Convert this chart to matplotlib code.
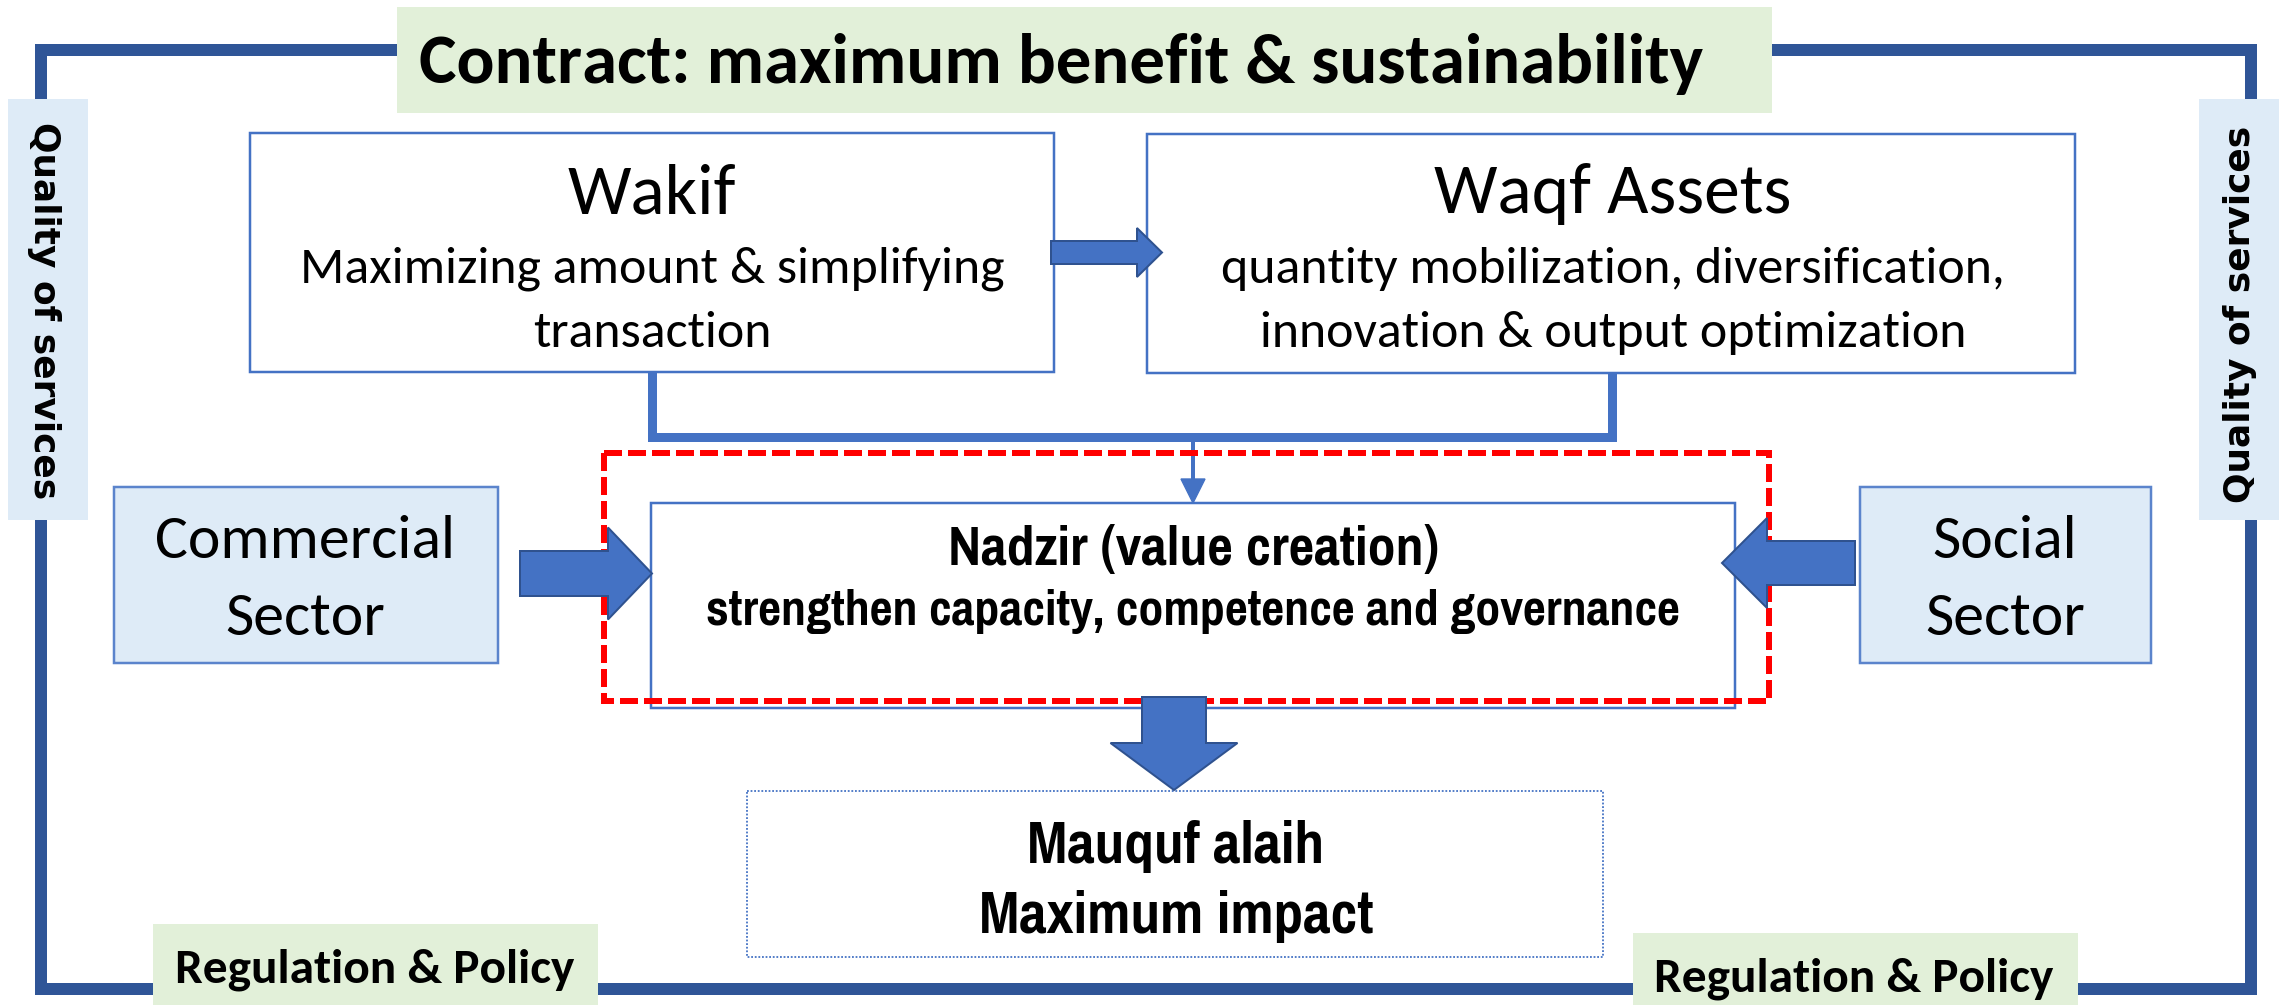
import matplotlib
matplotlib.use("Agg")
import matplotlib.pyplot as plt
from matplotlib.patches import Rectangle, Polygon
from matplotlib.lines import Line2D
from matplotlib.textpath import TextPath
from matplotlib import font_manager as fm

# ---------------- content ----------------
title_text = "Contract: maximum benefit & sustainability"
side_label = "Quality of services"
bottom_label = "Regulation & Policy"
wakif_lines = ["Wakif", "Maximizing amount & simplifying", "transaction"]
assets_lines = ["Waqf Assets", "quantity mobilization, diversification,",
                "innovation & output optimization"]
commercial_lines = ["Commercial", "Sector"]
social_lines = ["Social", "Sector"]
nadzir_lines = ["Nadzir (value creation)",
                "strengthen capacity, competence and governance"]
mauquf_lines = ["Mauquf alaih", "Maximum impact"]

# ---------------- styling ----------------
W, H, DPI = 2290, 1005, 100
PT = 0.72  # px -> pt at 100 dpi

FRAME = "#2F5597"
BLUE = "#4472C4"
ARROW_EDGE = "#2F528F"
LIGHT_BLUE = "#DEEBF7"
LIGHT_GREEN = "#E2F0D9"
RED = "#FF0000"


def font_ok(f, weight="normal"):
    try:
        p = fm.findfont(fm.FontProperties(family=f, weight=weight),
                        fallback_to_default=False)
        return "[" not in p
    except Exception:
        return False


def pick(families, weight="normal"):
    for f in families:
        if font_ok(f, weight):
            return f
    return "DejaVu Sans"


def pick_narrow(candidates, sample, target_ratio):
    """choose the condensed bold face whose width / cap-height is closest"""
    best, best_err = "DejaVu Sans", 1e9
    for f in candidates:
        if not font_ok(f, "bold"):
            continue
        prop = fm.FontProperties(family=f, weight="bold")
        try:
            w = TextPath((0, 0), sample, size=100, prop=prop).get_extents().width
            h = TextPath((0, 0), "H", size=100, prop=prop).get_extents().height
        except Exception:
            continue
        err = abs(w / h - target_ratio)
        if err < best_err:
            best, best_err = f, err
    return best


CAL = pick(["Carlito", "Lato", "Open Sans"])
NARROW = pick_narrow(["Liberation Sans Narrow", "Arial Narrow", "PT Sans Narrow",
                      "Pragati Narrow", "Roboto Condensed"],
                     "Maximum impact", 9.8)
WIDE = pick(["Verdana", "DejaVu Sans"], "bold")

fig = plt.figure(figsize=(W / DPI, H / DPI), dpi=DPI)
ax = fig.add_axes([0, 0, 1, 1])
ax.set_xlim(0, W)
ax.set_ylim(H, 0)
ax.axis("off")
renderer = fig.canvas.get_renderer()


def rect(x0, y0, x1, y1, fc="none", ec="none", lw=0, ls="-", z=2):
    ax.add_patch(Rectangle((x0, y0), x1 - x0, y1 - y0, facecolor=fc,
                           edgecolor=ec, linewidth=lw * PT, linestyle=ls,
                           zorder=z, joinstyle="miter"))


def fit_size(s, width, family, weight, rotation=0):
    t = ax.text(0, 0, s, fontsize=40, family=family, weight=weight,
                rotation=rotation)
    bb = t.get_window_extent(renderer=renderer)
    t.remove()
    w = bb.height if rotation else bb.width
    return 40 * width / w


def put(x, y, s, fs, family, weight="normal", va="baseline", rotation=0):
    ax.text(x, y, s, fontsize=fs, family=family, weight=weight, ha="center",
            va=va, rotation=rotation, rotation_mode="anchor", color="black",
            zorder=10)


def block_arrow(direction, start, end, center, shaft_half, head_start,
                head_half):
    if direction in ("right", "left"):
        pts = [(start, center - shaft_half), (head_start, center - shaft_half),
               (head_start, center - head_half), (end, center),
               (head_start, center + head_half), (head_start, center + shaft_half),
               (start, center + shaft_half)]
    else:
        pts = [(center - shaft_half, start), (center - shaft_half, head_start),
               (center - head_half, head_start), (center, end),
               (center + head_half, head_start), (center + shaft_half, head_start),
               (center + shaft_half, start)]
    ax.add_patch(Polygon(pts, closed=True, facecolor=BLUE, edgecolor=ARROW_EDGE,
                         linewidth=2 * PT, zorder=6, joinstyle="miter"))


# ---------------- outer frame ----------------
ax.add_line(Line2D([41, 41, 2251, 2251, 41], [989, 50, 50, 989, 989],
                   color=FRAME, linewidth=12 * PT, solid_joinstyle="miter",
                   zorder=1))

# label boxes on the frame
rect(397, 7, 1772, 113, fc=LIGHT_GREEN, z=2)
rect(8, 99, 88, 520, fc=LIGHT_BLUE, z=2)
rect(2199, 99, 2279, 520, fc=LIGHT_BLUE, z=2)
rect(153, 924, 598, 1005, fc=LIGHT_GREEN, z=2)
rect(1633, 933, 2078, 1005, fc=LIGHT_GREEN, z=2)

# ---------------- connectors ----------------
ax.add_line(Line2D([652, 652, 1612, 1612], [372, 437, 437, 373], color=BLUE,
                   linewidth=9 * PT, solid_joinstyle="miter", zorder=2))
ax.add_line(Line2D([1193, 1193], [437, 481], color=BLUE, linewidth=4 * PT,
                   zorder=2))
ax.add_patch(Polygon([(1181, 479), (1205, 479), (1193, 503)], closed=True,
                     facecolor=BLUE, edgecolor=BLUE, linewidth=1, zorder=3))

# ---------------- boxes ----------------
rect(250, 133, 1054, 372, fc="white", ec=BLUE, lw=2.5, z=3)
rect(1147, 134, 2075, 373, fc="white", ec=BLUE, lw=2.5, z=3)
rect(114, 487, 498, 663, fc=LIGHT_BLUE, ec="#5B84CC", lw=2.5, z=3)
rect(1860, 487, 2151, 663, fc=LIGHT_BLUE, ec="#5B84CC", lw=2.5, z=3)
rect(651, 503, 1735, 708, fc="white", ec=BLUE, lw=2.5, z=3)
ax.add_patch(Rectangle((604, 453), 1769 - 604, 701 - 453, facecolor="none",
                       edgecolor=RED, linewidth=6 * PT, linestyle=(0, (3, 1)),
                       zorder=4))
ax.add_patch(Rectangle((747, 791), 1603 - 747, 957 - 791, facecolor="white",
                       edgecolor=BLUE, linewidth=1.8 * PT, linestyle=(0, (1, 1)),
                       zorder=3))

# ---------------- block arrows ----------------
block_arrow("right", 1051, 1162, 252.5, 11.5, 1137, 24.5)
block_arrow("right", 520, 652, 573.5, 22.5, 608, 46)
block_arrow("left", 1855, 1722, 563, 22, 1767, 45)
block_arrow("down", 697, 790, 1174, 32, 743, 63.5)

# ---------------- texts ----------------
fs = fit_size(title_text, 1283, CAL, "bold")
put(1061, 83, title_text, fs, CAL, "bold")

fs = fit_size(side_label, 378, WIDE, "bold", rotation=90)
put(44, 311, side_label, fs, WIDE, "bold", va="center", rotation=-90)
put(2240, 314, side_label, fs, WIDE, "bold", va="center", rotation=90)

fs = fit_size(bottom_label, 399, CAL, "bold")
put(375, 982, bottom_label, fs, CAL, "bold")
put(1854, 991, bottom_label, fs, CAL, "bold")

fs_head = fit_size(assets_lines[0], 357, CAL, "normal")
fs_sub = fit_size(assets_lines[1], 783, CAL, "normal")
put(652, 213, wakif_lines[0], fs_head, CAL)
put(652, 282, wakif_lines[1], fs_sub, CAL)
put(652, 347, wakif_lines[2], fs_sub, CAL)
put(1613, 213, assets_lines[0], fs_head, CAL)
put(1613, 283, assets_lines[1], fs_sub, CAL)
put(1613, 347, assets_lines[2], fs_sub, CAL)

fs = fit_size(commercial_lines[0], 300, CAL, "normal")
put(305, 558, commercial_lines[0], fs, CAL)
put(305, 635, commercial_lines[1], fs, CAL)
put(2005, 558, social_lines[0], fs, CAL)
put(2005, 635, social_lines[1], fs, CAL)

fs = fit_size(nadzir_lines[0], 491, NARROW, "bold")
put(1193, 565, nadzir_lines[0], fs, NARROW, "bold")
fs = fit_size(nadzir_lines[1], 976, NARROW, "bold")
put(1193, 625, nadzir_lines[1], fs, NARROW, "bold")

fs = fit_size(mauquf_lines[1], 395, NARROW, "bold")
put(1176, 863, mauquf_lines[0], fs, NARROW, "bold")
put(1176, 933, mauquf_lines[1], fs, NARROW, "bold")

fig.savefig("out.png", dpi=DPI, facecolor="white")
